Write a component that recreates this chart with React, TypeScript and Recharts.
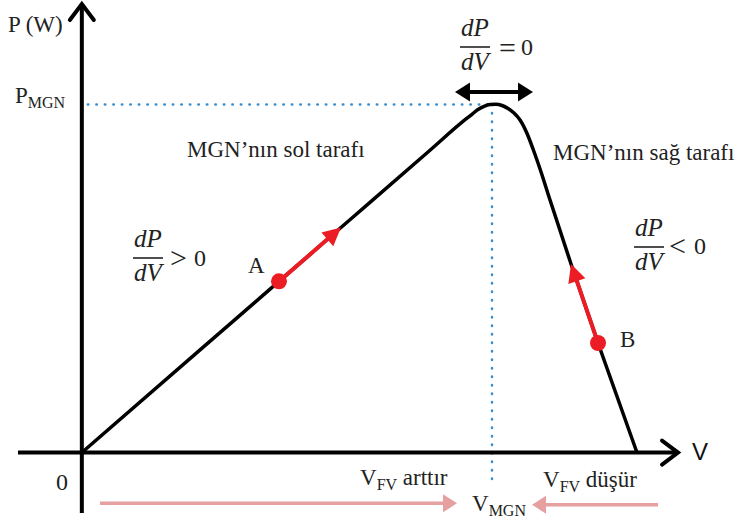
import React from 'react';
import { ComposedChart, Line, XAxis, YAxis, ReferenceLine, ReferenceDot } from 'recharts';

// P-V curve (voltage in arbitrary units, power in arbitrary units)
const curveV = [0, 20, 32.95, 45, 58, 64.21, 65.21, 66.21, 67.22, 68.22, 69.22, 70.23, 71.23, 72.23, 73.24, 74.41, 75.41, 76.58, 78.25, 81.76, 86.27, 92.78];
const curveP = [0, 23.11, 38.08, 52.0, 67.02, 74.2, 75.24, 76.31, 77.02, 77.42, 77.49, 77.2, 76.53, 75.53, 73.98, 70.97, 67.52, 63.08, 56.18, 41.94, 24.37, 0];

// operating points A and B and their movement targets
const pointLabels = ['A', 'B'];
const pointV = [32.95, 86.27];
const pointP = [38.08, 24.37];
const targetV = [43.31, 81.76];
const targetP = [50.05, 41.94];

// maximum power point
const mppV = 68.55;
const mppP = 77.45;

// axis extents
const xAxisExtent = [-10.67, 99.64];
const yAxisExtent = [-13.44, 99.78];

// dP/dV = 0 double arrow
const zeroArrowP = 80.2;
const zeroArrowV = [62.37, 75.4];

// V_FV adjustment arrows
const adjustP = -11.6;
const increaseV = [3.04, 62.7];
const decreaseV = [96.3, 75.24];

const curve = curveV.map((v, i) => ({ v, p: curveP[i] }));

type Head = 'none' | 'open' | 'filled';
interface ArrowOpts {
  start?: Head;
  end?: Head;
  len: number;
  half: number;
  color: string;
  width: number;
}

const makeArrow = (o: ArrowOpts) => (props: any) => {
  const { x1, y1, x2, y2 } = props;
  if ([x1, y1, x2, y2].some((v) => typeof v !== 'number' || isNaN(v))) return <g />;
  const dx = x2 - x1;
  const dy = y2 - y1;
  const L = Math.hypot(dx, dy) || 1;
  const ux = dx / L;
  const uy = dy / L;
  const nx = -uy;
  const ny = ux;
  const head = (tx: number, ty: number, dirx: number, diry: number, kind: Head, key: string) => {
    if (kind === 'none') return null;
    const bx = tx - dirx * o.len;
    const by = ty - diry * o.len;
    const p1 = `${bx + nx * o.half},${by + ny * o.half}`;
    const p2 = `${bx - nx * o.half},${by - ny * o.half}`;
    if (kind === 'filled') {
      return <polygon key={key} points={`${p1} ${tx},${ty} ${p2}`} fill={o.color} stroke="none" />;
    }
    return (
      <polyline
        key={key}
        points={`${p1} ${tx},${ty} ${p2}`}
        fill="none"
        stroke={o.color}
        strokeWidth={o.width}
        strokeLinejoin="miter"
        strokeLinecap="round"
      />
    );
  };
  let sx1 = x1;
  let sy1 = y1;
  let sx2 = x2;
  let sy2 = y2;
  if (o.end === 'filled') {
    sx2 = x2 - ux * o.len * 0.7;
    sy2 = y2 - uy * o.len * 0.7;
  }
  if (o.start === 'filled') {
    sx1 = x1 + ux * o.len * 0.7;
    sy1 = y1 + uy * o.len * 0.7;
  }
  return (
    <g>
      <line x1={sx1} y1={sy1} x2={sx2} y2={sy2} stroke={o.color} strokeWidth={o.width} />
      {head(x2, y2, ux, uy, o.end || 'none', 'e')}
      {head(x1, y1, -ux, -uy, o.start || 'none', 's')}
    </g>
  );
};

const axisArrow = makeArrow({ end: 'open', len: 16, half: 12, color: '#000', width: 4 });
const redArrow = makeArrow({ end: 'filled', len: 18, half: 9, color: '#ec1c24', width: 4 });
const zeroArrow = makeArrow({ start: 'filled', end: 'filled', len: 15, half: 9.5, color: '#000', width: 4 });
const pinkArrow = makeArrow({ end: 'filled', len: 14, half: 9, color: '#e6a09f', width: 3.5 });

const serif = 'Liberation Serif, Tinos, DejaVu Serif, serif';
const textColor = '#222';
const serifStyle: React.CSSProperties = { fontFamily: serif };

const Frac = ({ cx, bar, w }: { cx: number; bar: number; w: number }) => (
  <g style={{ fontFamily: serif, fontStyle: 'italic' }} fontSize={25} fill={textColor} textAnchor="middle">
    <text x={cx} y={bar - 11}>dP</text>
    <line x1={cx - w / 2} x2={cx + w / 2} y1={bar} y2={bar} stroke={textColor} strokeWidth={1.6} />
    <text x={cx} y={bar + 23}>dV</text>
  </g>
);

export default function App() {
  return (
    <div style={{ position: 'absolute', left: 0, top: 0, width: 740, height: 525, background: '#fff' }}>
      <ComposedChart width={740} height={525} data={curve} margin={{ top: 3, right: 0, bottom: 5, left: 22 }}>
        <XAxis type="number" dataKey="v" domain={[-10, 110]} hide allowDataOverflow />
        <YAxis type="number" domain={[-15, 100]} hide allowDataOverflow />
        <ReferenceLine
          segment={[{ x: 1.0, y: mppP }, { x: mppV, y: mppP }]}
          stroke="#3a8fd0"
          strokeWidth={2.5}
          strokeDasharray="0.5 8"
          strokeLinecap="round"
          ifOverflow="visible"
        />
        <ReferenceLine
          segment={[{ x: mppV, y: mppP }, { x: mppV, y: -6.1 }]}
          stroke="#3a8fd0"
          strokeWidth={2.5}
          strokeDasharray="0.5 8"
          strokeLinecap="round"
          ifOverflow="visible"
        />
        <ReferenceLine
          segment={[{ x: xAxisExtent[0], y: 0 }, { x: xAxisExtent[1], y: 0 }]}
          shape={axisArrow}
          ifOverflow="visible"
        />
        <ReferenceLine
          segment={[{ x: 0, y: yAxisExtent[0] }, { x: 0, y: yAxisExtent[1] }]}
          shape={axisArrow}
          ifOverflow="visible"
        />
        <Line
          type="monotone"
          dataKey="p"
          stroke="#000"
          strokeWidth={3.5}
          dot={false}
          activeDot={false}
          isAnimationActive={false}
        />
        <ReferenceLine
          segment={[{ x: zeroArrowV[0], y: zeroArrowP }, { x: zeroArrowV[1], y: zeroArrowP }]}
          shape={zeroArrow}
          ifOverflow="visible"
        />
        {pointV.map((v, i) => (
          <ReferenceLine
            key={`ra${i}`}
            segment={[{ x: v, y: pointP[i] }, { x: targetV[i], y: targetP[i] }]}
            shape={redArrow}
            ifOverflow="visible"
          />
        ))}
        {pointV.map((v, i) => (
          <ReferenceDot key={`pt${pointLabels[i]}`} x={v} y={pointP[i]} r={8} fill="#ec1c24" stroke="none" ifOverflow="visible" />
        ))}
        <ReferenceLine
          segment={[{ x: increaseV[0], y: adjustP + 0.3 }, { x: increaseV[1], y: adjustP + 0.3 }]}
          shape={pinkArrow}
          ifOverflow="visible"
        />
        <ReferenceLine
          segment={[{ x: decreaseV[0], y: adjustP }, { x: decreaseV[1], y: adjustP }]}
          shape={pinkArrow}
          ifOverflow="visible"
        />
      </ComposedChart>
      <svg
        width={740}
        height={525}
        style={{ position: 'absolute', left: 0, top: 0, pointerEvents: 'none' }}
      >
        <g style={serifStyle} fontSize={23} fill={textColor}>
          <text x={8} y={32}>P (W)</text>
          <text x={15} y={103}>
            P<tspan fontSize={16} dy={5}>MGN</tspan>
          </text>
          <text x={187} y={157}>MGN’nın sol tarafı</text>
          <text x={553} y={160}>MGN’nın sağ tarafı</text>
          <text x={248} y={273}>{pointLabels[0]}</text>
          <text x={620} y={347}>{pointLabels[1]}</text>
          <text x={56} y={490} fontSize={24}>0</text>
          <text x={360} y={485}>
            V<tspan fontSize={16} dy={5}>FV</tspan>
            <tspan dy={-5}> arttır</tspan>
          </text>
          <text x={472} y={511}>
            V<tspan fontSize={16} dy={5}>MGN</tspan>
          </text>
          <text x={543} y={487}>
            V<tspan fontSize={16} dy={5}>FV</tspan>
            <tspan dy={-5}> düşür</tspan>
          </text>
        </g>
        <text x={692} y={460} style={{ fontFamily: 'Liberation Sans, Arial, sans-serif' }} fontSize={24} fill="#111">V</text>
        <Frac cx={475} bar={47} w={30} />
        <g style={serifStyle} fill={textColor}>
          <text x={499} y={58} fontSize={30}>=</text>
          <text x={521} y={55} fontSize={24}>0</text>
        </g>
        <Frac cx={148} bar={258} w={30} />
        <g style={serifStyle} fill={textColor}>
          <text x={170} y={268} fontSize={30}>&gt;</text>
          <text x={194} y={266} fontSize={24}>0</text>
        </g>
        <Frac cx={649} bar={247} w={30} />
        <g style={serifStyle} fill={textColor}>
          <text x={669} y={256} fontSize={30}>&lt;</text>
          <text x={694} y={254} fontSize={24}>0</text>
        </g>
      </svg>
    </div>
  );
}
